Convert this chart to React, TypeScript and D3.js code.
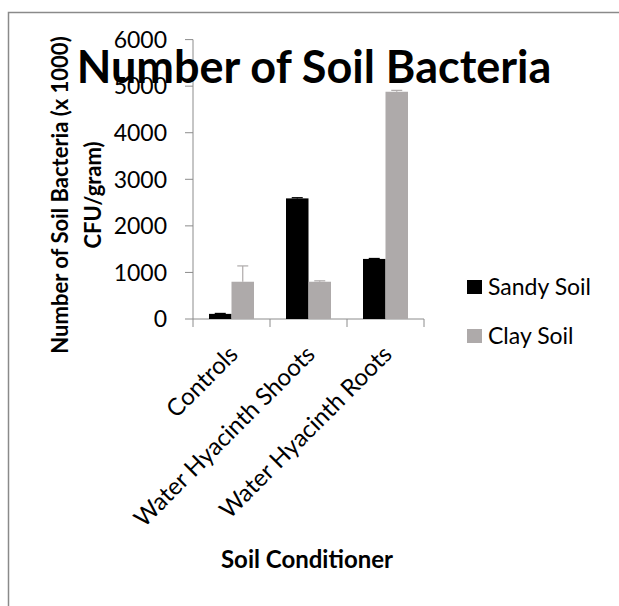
import React from "react";
import * as d3 from "d3";

// Soil bacteria counts (x 1000 CFU/gram) per soil conditioner
const categories = ["Controls", "Water Hyacinth Shoots", "Water Hyacinth Roots"];
const seriesNames = ["Sandy Soil", "Clay Soil"];
const sandyValues = [110, 2590, 1290];
const clayValues = [800, 800, 4880];
const sandyErrors = [10, 15, 10];
const clayErrors = [340, 20, 30];
const yTicks = [0, 1000, 2000, 3000, 4000, 5000, 6000];
const seriesColors = ["#000000", "#aeaaaa"];

const FONT = "Lato, 'Open Sans', sans-serif";

export default function App() {
  const W = 619;
  const H = 606;
  const plot = { left: 193, right: 424, top: 39.6, bottom: 319 };

  const y = d3.scaleLinear().domain([0, 6000]).range([plot.bottom, plot.top]);
  const x = d3
    .scaleBand<string>()
    .domain(categories)
    .range([plot.left, plot.right])
    .paddingInner(0.4156)
    .paddingOuter(0.2078);
  const xs = d3.scaleBand<string>().domain(seriesNames).range([0, x.bandwidth()]);
  const step = x.step();

  const series = [
    { name: seriesNames[0], values: sandyValues, errors: sandyErrors, color: seriesColors[0] },
    { name: seriesNames[1], values: clayValues, errors: clayErrors, color: seriesColors[1] },
  ];

  const axisColor = "#8c8c8c";

  return (
    <svg
      width={W}
      height={H}
      style={{ position: "absolute", left: 0, top: 0, background: "#fff" }}
      fontFamily={FONT}
    >
      <rect x={0} y={0} width={W} height={H} fill="#fff" />
      {/* chart frame */}
      <path d={`M8.5,${H} V12.5 H${W}`} fill="none" stroke="#8a8a8a" strokeWidth={1.5} />

      {/* y axis */}
      <line x1={plot.left} x2={plot.left} y1={plot.top} y2={plot.bottom} stroke={axisColor} strokeWidth={1} />
      {yTicks.map((t) => (
        <g key={t}>
          <line x1={plot.left - 8} x2={plot.left} y1={y(t)} y2={y(t)} stroke={axisColor} />
          <text x={167} y={y(t)} dy="0.36em" textAnchor="end" fontSize={23} fill="#000">
            {t}
          </text>
        </g>
      ))}

      {/* x axis */}
      <line x1={plot.left} x2={plot.right} y1={plot.bottom} y2={plot.bottom} stroke={axisColor} />
      {d3.range(categories.length + 1).map((i) => (
        <line
          key={i}
          x1={plot.left + i * step}
          x2={plot.left + i * step}
          y1={plot.bottom}
          y2={plot.bottom + 8}
          stroke={axisColor}
        />
      ))}

      {/* bars */}
      {series.map((s) =>
        categories.map((c, i) => {
          const bx = (x(c) ?? 0) + (xs(s.name) ?? 0);
          const bw = xs.bandwidth();
          const v = s.values[i];
          return (
            <rect key={s.name + c} x={bx} y={y(v)} width={bw} height={plot.bottom - y(v)} fill={s.color} />
          );
        })
      )}

      {/* error bars (plus direction) */}
      {series.map((s) =>
        categories.map((c, i) => {
          const cx = (x(c) ?? 0) + (xs(s.name) ?? 0) + xs.bandwidth() / 2;
          const v = s.values[i];
          const top = y(v + s.errors[i]);
          return (
            <g key={"e" + s.name + c} stroke={s.color} strokeWidth={1.2}>
              <line x1={cx} x2={cx} y1={y(v)} y2={top} />
              <line x1={cx - 5.5} x2={cx + 5.5} y1={top} y2={top} />
            </g>
          );
        })
      )}

      {/* category labels */}
      {categories.map((c) => {
        const cx = (x(c) ?? 0) + x.bandwidth() / 2;
        return (
          <text
            key={c}
            transform={`translate(${cx - 4},${plot.bottom + 25}) rotate(-45)`}
            textAnchor="end"
            dy="0.7em"
            fontSize={24}
            fill="#000"
          >
            {c}
          </text>
        );
      })}

      {/* titles */}
      <text x={314} y={83} textAnchor="middle" fontSize={45} fontWeight="bold" fill="#000">
        Number of Soil Bacteria
      </text>
      <text x={307} y={568} textAnchor="middle" fontSize={24} fontWeight="bold" fill="#000">
        Soil Conditioner
      </text>
      <g transform="translate(0,195) rotate(-90)" fontSize={22} fontWeight="bold" fill="#000">
        <text x={0} y={68} textAnchor="middle">
          Number of Soil Bacteria (x 1000)
        </text>
        <text x={0} y={101} textAnchor="middle">
          CFU/gram)
        </text>
      </g>

      {/* legend */}
      {series.map((s, i) => (
        <g key={"l" + s.name} transform={`translate(467,${280 + i * 49})`}>
          <rect x={0} y={0} width={15} height={14} fill={s.color} />
          <text x={21} y={7} dy="0.36em" fontSize={23} fill="#000">
            {s.name}
          </text>
        </g>
      ))}
    </svg>
  );
}
